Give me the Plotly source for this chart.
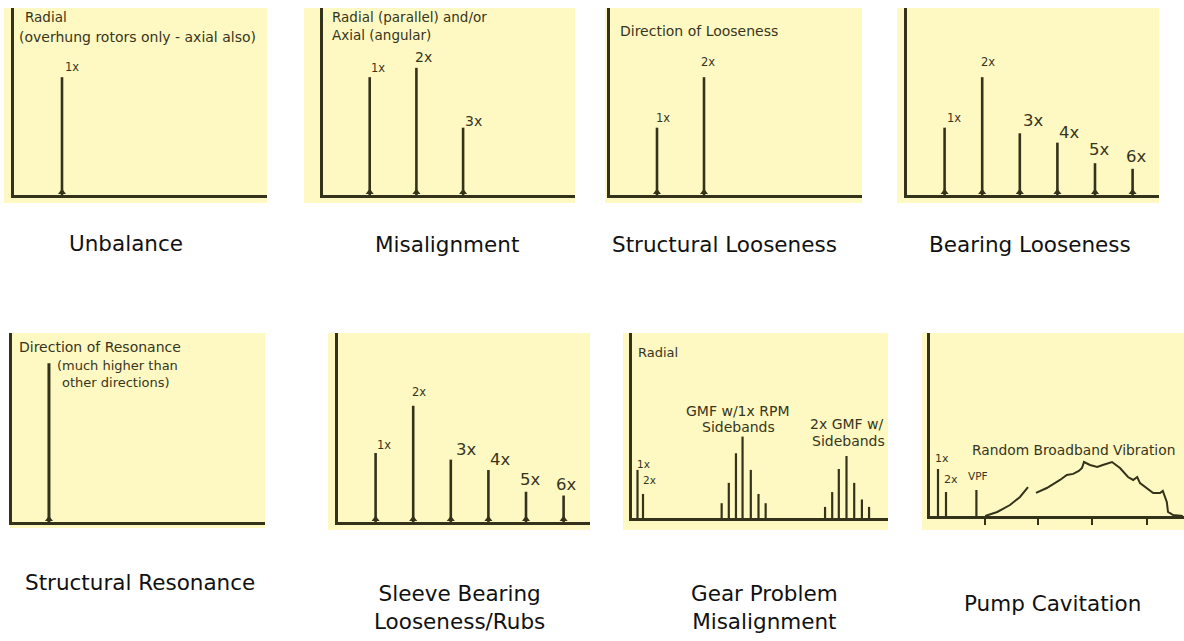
import plotly.graph_objects as go

# ---------------- data (orders of running speed / relative amplitude 0-10) ----------------
# Panel 1: Unbalance
unbalance_orders = [1]
unbalance_amp = [6.3]
unbalance_labels = ["1x"]

# Panel 2: Misalignment
misalign_orders = [1, 2, 3]
misalign_amp = [6.3, 6.8, 3.6]
misalign_labels = ["1x", "2x", "3x"]

# Panel 3: Structural looseness
struct_orders = [1, 2]
struct_amp = [3.6, 6.3]
struct_labels = ["1x", "2x"]

# Panel 4: Bearing looseness
bearing_orders = [1, 2, 3, 4, 5, 6]
bearing_amp = [3.6, 6.3, 3.3, 2.8, 1.7, 1.4]
bearing_labels = ["1x", "2x", "3x", "4x", "5x", "6x"]

# Panel 5: Structural resonance
resonance_freq = [0.77]
resonance_amp = [8.4]

# Panel 6: Sleeve bearing looseness / rubs
sleeve_orders = [1, 2, 3, 4, 5, 6]
sleeve_amp = [3.65, 6.15, 3.3, 2.75, 1.6, 1.4]
sleeve_labels = ["1x", "2x", "3x", "4x", "5x", "6x"]

# Panel 7: Gear problem misalignment
gear_run_orders = [1, 2]
gear_run_amp = [2.6, 1.3]
gear_run_labels = ["1x", "2x"]
gmf_orders = [16.3, 17.6, 18.9, 20.1, 21.6, 23.0, 24.3]
gmf_amp = [0.8, 1.9, 3.5, 4.4, 2.6, 1.3, 0.8]
gmf2_orders = [35.1, 36.4, 37.6, 39.0, 40.4, 41.8, 43.1]
gmf2_amp = [0.6, 1.4, 2.65, 3.35, 1.9, 1.0, 0.6]

# Panel 8: Pump cavitation
pump_orders = [1, 2, 5.8]
pump_amp = [2.57, 1.31, 1.42]
pump_labels = ["1x", "2x", "VPF"]
broadband_orders = [6.9, 8.4, 10.0, 11.25, 12.25, None,
                    13.25, 14.6, 16.25, 17.1, 17.9, 18.6, 19.0, 19.25, 20.0, 20.9,
                    21.6, 22.75, 23.75, 24.75, 25.4, 25.9, 26.25, 27.1, 27.9, 28.75,
                    29.1, 29.6, 29.75, 30.4, 31.6]
broadband_amp = [0.0, 0.22, 0.60, 1.04, 1.58, None,
                 1.26, 1.53, 1.97, 2.24, 2.30, 2.46, 2.62, 2.95, 2.79, 2.68,
                 2.79, 2.95, 2.62, 2.13, 1.97, 2.13, 1.80, 1.53, 1.26, 1.26,
                 1.37, 0.77, 0.22, 0.05, 0.0]
broadband_ticks = [6.9, 13.5, 20.3, 27.1]

titles = [
    ("Unbalance", 126, 243),
    ("Misalignment", 447, 245),
    ("Structural Looseness", 724, 245),
    ("Bearing Looseness", 1030, 245),
    ("Structural Resonance", 140, 582),
    ("Sleeve Bearing<br>Looseness/Rubs", 459, 607),
    ("Gear Problem<br>Misalignment", 764, 607),
    ("Pump Cavitation", 1052, 603),
]

# ---------------- layout helpers ----------------
W, H = 1184, 641
INK = "#34321a"
TEXT = "#37351d"
BG = "#fef9c2"
PANEL_FONT = "DejaVu Sans"


def fx(px):
    return px / W


def fy(py):
    return 1 - py / H


# plot-area pixel boxes, x-range max, yellow background boxes
panels = [
    dict(xd=(14, 267), yd=(8, 195), xmax=(267 - 14) / 48.0, bg=(4, 8, 267, 203)),
    dict(xd=(323, 575), yd=(8, 195), xmax=(575 - 323) / 46.7, bg=(304, 8, 575, 203)),
    dict(xd=(610, 862), yd=(8, 195), xmax=(862 - 610) / 47.0, bg=(605, 8, 862, 203)),
    dict(xd=(907, 1159), yd=(8, 195), xmax=(1159 - 907) / 37.6, bg=(897, 8, 1159, 203)),
    dict(xd=(12, 265), yd=(333, 522), xmax=(265 - 12) / 48.0, bg=(10, 333, 265, 528)),
    dict(xd=(338, 590), yd=(333, 522), xmax=(590 - 338) / 37.6, bg=(328, 333, 590, 530)),
    dict(xd=(632, 888), yd=(333, 518), xmax=(888 - 632) / 5.5, bg=(623, 333, 888, 530)),
    dict(xd=(930, 1184), yd=(333, 516), xmax=(1184 - 930) / 8.0, bg=(922, 333, 1184, 530)),
]

fig = go.Figure()
layout = dict(
    width=W, height=H, margin=dict(l=0, r=0, t=0, b=0),
    paper_bgcolor="white", plot_bgcolor="rgba(0,0,0,0)",
    showlegend=False, shapes=[], annotations=[], hovermode=False,
)

for i, p in enumerate(panels, start=1):
    sfx = "" if i == 1 else str(i)
    layout["xaxis" + sfx] = dict(
        domain=[fx(p["xd"][0]), fx(p["xd"][1])], range=[0, p["xmax"]],
        anchor="y" + sfx, showgrid=False, zeroline=False, showticklabels=False,
        ticks="", showline=True, linecolor=INK, linewidth=3, fixedrange=True,
    )
    layout["yaxis" + sfx] = dict(
        domain=[fy(p["yd"][1]), fy(p["yd"][0])], range=[0, 10],
        anchor="x" + sfx, showgrid=False, zeroline=False, showticklabels=False,
        ticks="", showline=True, linecolor=INK, linewidth=3, fixedrange=True,
    )
    x0, y0, x1, y1 = p["bg"]
    layout["shapes"].append(dict(
        type="rect", xref="paper", yref="paper", layer="below",
        x0=fx(x0), x1=fx(x1), y0=fy(y1), y1=fy(y0),
        fillcolor=BG, line=dict(width=0),
    ))

# pump cavitation axis ticks
layout["xaxis8"].update(ticks="outside", tickvals=broadband_ticks, ticklen=6,
                        tickwidth=2, tickcolor=INK)


def add_spikes(xs, ys, idx, width=2.6, feet=True):
    sx, sy = [], []
    for x, y in zip(xs, ys):
        sx += [x, x, None]
        sy += [0, y, None]
    sfx = "" if idx == 1 else str(idx)
    fig.add_trace(go.Scatter(x=sx, y=sy, mode="lines",
                             line=dict(color=INK, width=width),
                             xaxis="x" + sfx, yaxis="y" + sfx,
                             hoverinfo="skip", cliponaxis=False))
    if feet:
        fig.add_trace(go.Scatter(x=list(xs), y=[0.15] * len(xs), mode="markers",
                                 marker=dict(symbol="triangle-up", size=7, color=INK),
                                 xaxis="x" + sfx, yaxis="y" + sfx,
                                 hoverinfo="skip", cliponaxis=False))


def add_labels(xs, ys, labels, idx, sizes, xshifts, yshifts, anchors=None):
    sfx = "" if idx == 1 else str(idx)
    anchors = anchors or ["left"] * len(xs)
    for x, y, t, s, dx, dy, a in zip(xs, ys, labels, sizes, xshifts, yshifts, anchors):
        layout["annotations"].append(dict(
            x=x, y=y, xref="x" + sfx, yref="y" + sfx, text=t, showarrow=False,
            xanchor=a, yanchor="bottom", xshift=dx, yshift=dy,
            font=dict(family=PANEL_FONT, size=s, color=TEXT),
        ))


add_spikes(unbalance_orders, unbalance_amp, 1)
add_labels(unbalance_orders, unbalance_amp, unbalance_labels, 1, [11.5], [1], [1])

add_spikes(misalign_orders, misalign_amp, 2)
add_labels(misalign_orders, misalign_amp, misalign_labels, 2,
           [11.5, 14, 14], [-1, -3, 0], [0, 1, -3])

add_spikes(struct_orders, struct_amp, 3)
add_labels(struct_orders, struct_amp, struct_labels, 3,
           [11.5, 11.5], [-3, -5], [1, 6])

add_spikes(bearing_orders, bearing_amp, 4)
add_labels(bearing_orders, bearing_amp, bearing_labels, 4,
           [11.5, 11.5, 16.5, 16.5, 16.5, 16.5],
           [0, -3, 1, 0, -8, -9], [1, 6, 1, -1, 2, 1])

add_spikes(resonance_freq, resonance_amp, 5, width=3)

add_spikes(sleeve_orders, sleeve_amp, 6)
add_labels(sleeve_orders, sleeve_amp, sleeve_labels, 6,
           [11.5, 11.5, 16.5, 16.5, 16.5, 16.5],
           [-1, -3, 3, 0, -8, -10], [-1, 5, -1, -1, 1, 0])

add_spikes(gear_run_orders, gear_run_amp, 7, width=2.2, feet=False)
add_spikes(gmf_orders, gmf_amp, 7, width=2.2, feet=False)
add_spikes(gmf2_orders, gmf2_amp, 7, width=2.2, feet=False)
add_labels(gear_run_orders, gear_run_amp, gear_run_labels, 7,
           [10.5, 10.5], [-3, -2], [-2, 6])

add_spikes(pump_orders, pump_amp, 8, width=2.2, feet=False)
add_labels(pump_orders, pump_amp, pump_labels, 8,
           [11, 11, 10.5], [-5, -4, -10], [2, 4, 6])
fig.add_trace(go.Scatter(x=broadband_orders, y=broadband_amp, mode="lines",
                         line=dict(color=INK, width=2), connectgaps=False,
                         xaxis="x8", yaxis="y8", hoverinfo="skip"))

# in-panel descriptive texts (x-left or center in px, y-center in px)
panel_texts = [
    ("Radial", 23, 17, "left", 13.5),
    ("(overhung rotors only - axial also)", 17, 37, "left", 14),
    ("Radial (parallel) and/or", 330, 17, "left", 13.5),
    ("Axial (angular)", 330, 35, "left", 13.5),
    ("Direction of Looseness", 618, 31, "left", 14),
    ("Direction of Resonance", 17, 347, "left", 14),
    ("(much higher than", 55, 365, "left", 13),
    ("other directions)", 60, 382, "left", 13),
    ("Radial", 636, 352, "left", 13),
    ("GMF w/1x RPM", 738, 411, "center", 14),
    ("Sidebands", 738, 427, "center", 14),
    ("2x GMF w/", 847, 424, "center", 14),
    ("Sidebands", 848, 441, "center", 14),
    ("Random Broadband Vibration", 970, 450, "left", 13.8),
]
for t, x, y, anc, s in panel_texts:
    layout["annotations"].append(dict(
        x=fx(x), y=fy(y), xref="paper", yref="paper", text=t, showarrow=False,
        xanchor=anc, yanchor="middle",
        font=dict(family=PANEL_FONT, size=s, color=TEXT),
    ))

for t, x, y in titles:
    layout["annotations"].append(dict(
        x=fx(x), y=fy(y), xref="paper", yref="paper", text=t, showarrow=False,
        xanchor="center", yanchor="middle", align="center",
        font=dict(family="DejaVu Sans", size=21.5, color="#111111"),
    ))

fig.update_layout(**layout)
fig.write_html("out.html", config={"displayModeBar": False, "staticPlot": True},
               post_script="document.body.style.margin='0px';document.body.style.padding='0px';")
